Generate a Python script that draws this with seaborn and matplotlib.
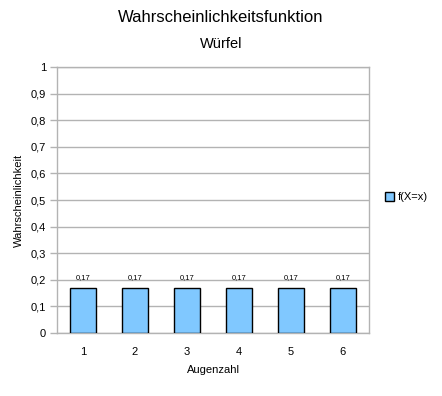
import matplotlib
matplotlib.use("Agg")
import matplotlib.pyplot as plt
import seaborn as sns
import pandas as pd
import numpy as np

categories = ["1", "2", "3", "4", "5", "6"]
values = [0.17, 0.17, 0.17, 0.17, 0.17, 0.17]
value_labels = ["0,17", "0,17", "0,17", "0,17", "0,17", "0,17"]
yticks = [0, 0.1, 0.2, 0.3, 0.4, 0.5, 0.6, 0.7, 0.8, 0.9, 1]
ytick_labels = ["0", "0,1", "0,2", "0,3", "0,4", "0,5", "0,6", "0,7", "0,8", "0,9", "1"]

sns.set_style("white")
plt.rcParams['font.family'] = ['Liberation Sans', 'DejaVu Sans']
plt.rcParams['text.color'] = 'black'
plt.rcParams['axes.labelcolor'] = 'black'
plt.rcParams['xtick.labelcolor'] = 'black'
plt.rcParams['ytick.labelcolor'] = 'black'

df = pd.DataFrame({"Augenzahl": categories, "p": values})

fig = plt.figure(figsize=(4.42, 3.96), dpi=100)
ax = fig.add_axes([57/442, 63/396, 312/442, 266/396])

sns.barplot(data=df, x="Augenzahl", y="p", ax=ax, color="#80C8FF",
            saturation=1, width=0.5, edgecolor="black", linewidth=1,
            label="f(X=x)", zorder=3)

ax.set_ylim(0, 1)
ax.set_xlim(-0.5, 5.5)
ax.set_yticks(yticks)
ax.set_yticklabels(ytick_labels, fontsize=8)
ax.yaxis.grid(True, color="#b3b3b3", linewidth=1, zorder=0)
ax.set_xticks(range(len(categories)))
ax.set_xticklabels(categories, fontsize=8)
ax.tick_params(axis="x", which="major", length=0, pad=10)
ax.set_xticks(np.arange(-0.5, 6, 1), minor=True)
ax.tick_params(axis="x", which="minor", length=6, color="#b3b3b3", width=1)
ax.tick_params(axis="y", length=5, color="#b3b3b3", width=1, left=True, pad=3)

for s in ax.spines.values():
    s.set_color("#b3b3b3")
    s.set_linewidth(1)

for c in ax.containers:
    ax.bar_label(c, labels=value_labels, fontsize=5.5, padding=5)

ax.set_xlabel("Augenzahl", fontsize=8, labelpad=6)
ax.set_ylabel("Wahrscheinlichkeit", fontsize=8, labelpad=5)

fig.text(0.5, 1 - 17/396, "Wahrscheinlichkeitsfunktion", ha="center", va="center", fontsize=12)
fig.text(0.5, 1 - 44/396, "Würfel", ha="center", va="center", fontsize=10.5)

leg = ax.legend(loc="center left", bbox_to_anchor=(1.02, 0.51), frameon=False,
                fontsize=8, handlelength=0.8, handleheight=0.8, handletextpad=0.3)

fig.savefig("out.png", dpi=100)
